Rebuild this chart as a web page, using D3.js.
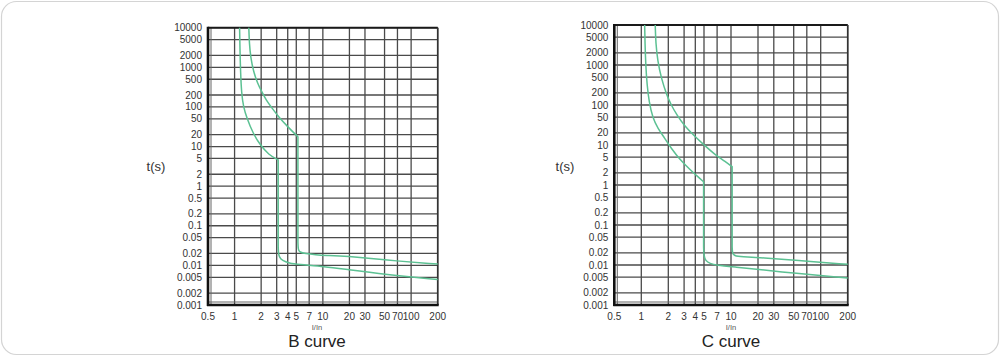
<!DOCTYPE html>
<html>
<head>
<meta charset="utf-8">
<script src="https://cdn.jsdelivr.net/npm/d3@7"></script>
<style>
  html, body { margin: 0; padding: 0; background: #fff; }
  svg { display: block; }
</style>
</head>
<body>
<svg id="chart" width="1000" height="356"></svg>
<script>
// ---- data ----
const xTicks = [0.5, 1, 2, 3, 4, 5, 7, 10, 20, 30, 50, 70, 100, 200];
const xTickLabels = ["0.5", "1", "2", "3", "4", "5", "7", "10", "20", "30", "50", "70", "100", "200"];
const yTicks = [10000, 5000, 2000, 1000, 500, 200, 100, 50, 20, 10, 5, 2, 1, 0.5, 0.2, 0.1, 0.05, 0.02, 0.01, 0.005, 0.002, 0.001];
const yTickLabels = ["10000", "5000", "2000", "1000", "500", "200", "100", "50", "20", "10", "5", "2", "1", "0.5", "0.2", "0.1", "0.05", "0.02", "0.01", "0.005", "0.002", "0.001"];

// B curve: lower boundary (I/In, t)
const bLowerI = [1.14, 1.15, 1.17, 1.2, 1.26, 1.38, 1.61, 1.95, 2.43, 3.12, 3.12, 3.14, 3.22, 3.46, 4.16, 5.2, 10.6, 18.3, 51, 200];
const bLowerT = [10000, 3000, 700, 220, 100, 52, 22, 11, 6.2, 4.6, 0.03, 0.02, 0.016, 0.0132, 0.0114, 0.0106, 0.0093, 0.0079, 0.0059, 0.0044];
// B curve: upper boundary
const bUpperI = [1.45, 1.47, 1.52, 1.64, 1.82, 2.03, 2.28, 2.67, 3.14, 4.0, 4.92, 5.22, 5.22, 5.25, 5.45, 6.3, 8.37, 10.6, 18.3, 51, 200];
const bUpperT = [10000, 4000, 1800, 775, 395, 242, 149, 92, 57, 31.6, 20, 17.7, 0.039, 0.025, 0.0215, 0.0198, 0.0185, 0.0179, 0.0172, 0.0136, 0.0108];

// C curve: lower boundary
const cLowerI = [1.09, 1.1, 1.12, 1.16, 1.22, 1.34, 1.53, 1.83, 2.15, 2.70, 3.53, 4.5, 4.95, 4.95, 4.98, 5.2, 5.8, 7.0, 10, 33.8, 200];
const cLowerT = [10000, 3500, 1000, 316, 121, 47, 26, 14.7, 8.3, 4.3, 2.37, 1.45, 1.2, 0.028, 0.017, 0.0128, 0.0108, 0.0099, 0.0091, 0.0068, 0.0047];
// C curve: upper boundary
const cUpperI = [1.43, 1.45, 1.52, 1.67, 1.92, 2.15, 2.5, 3.0, 3.8, 5.0, 6.6, 8.6, 10.3, 10.3, 10.35, 10.8, 13.1, 22.4, 52.5, 200];
const cUpperT = [10000, 3500, 1300, 464, 178, 100, 56, 31, 17.8, 10, 5.8, 3.9, 2.87, 0.029, 0.02, 0.017, 0.016, 0.0152, 0.0132, 0.0104];

const panelTitles = ["B curve", "C curve"];
const axisXTitle = "I/In";
const axisYTitle = "t(s)";

// ---- drawing ----
const svg = d3.select("#chart");
const font = "'Liberation Sans', Arial, sans-serif";

svg.append("rect")
  .attr("x", 1.5).attr("y", 1.5).attr("width", 997).attr("height", 353)
  .attr("rx", 15).attr("ry", 15)
  .attr("fill", "#fff").attr("stroke", "#d4d4d4").attr("stroke-width", 1.2);

const panels = [
  { x0: 208, x1: 437.7, y0: 27.7, y1: 305, cx: 317, tsx: 156, title: panelTitles[0],
    series: [[bLowerI, bLowerT], [bUpperI, bUpperT]] },
  { x0: 614.3, x1: 847.7, y0: 25, y1: 305, cx: 731, tsx: 565, title: panelTitles[1],
    series: [[cLowerI, cLowerT], [cUpperI, cUpperT]] }
];

panels.forEach(p => {
  const x = d3.scaleLog().domain([0.5, 200]).range([p.x0, p.x1]);
  const y = d3.scaleLog().domain([0.001, 10000]).range([p.y1, p.y0]);
  const g = svg.append("g");

  // grid
  g.selectAll("line.vx").data(xTicks).join("line")
    .attr("x1", d => x(d)).attr("x2", d => x(d))
    .attr("y1", p.y0).attr("y2", p.y1)
    .attr("stroke", "#4a4a4a").attr("stroke-width", 1.3);
  g.selectAll("line.hy").data(yTicks).join("line")
    .attr("x1", p.x0).attr("x2", p.x1)
    .attr("y1", d => y(d)).attr("y2", d => y(d))
    .attr("stroke", "#4a4a4a").attr("stroke-width", 1.3);

  // inner double lines near left/bottom frame
  g.append("line").attr("x1", p.x0 + 3).attr("x2", p.x0 + 3).attr("y1", p.y0).attr("y2", p.y1)
    .attr("stroke", "#666").attr("stroke-width", 1);
  g.append("line").attr("x1", p.x0).attr("x2", p.x1).attr("y1", p.y1 - 3).attr("y2", p.y1 - 3)
    .attr("stroke", "#666").attr("stroke-width", 1);

  // frame
  g.append("line").attr("x1", p.x0).attr("x2", p.x1).attr("y1", p.y0).attr("y2", p.y0)
    .attr("stroke", "#1a1a1a").attr("stroke-width", 2);
  g.append("line").attr("x1", p.x1).attr("x2", p.x1).attr("y1", p.y0).attr("y2", p.y1)
    .attr("stroke", "#333").attr("stroke-width", 1.6);
  g.append("line").attr("x1", p.x0).attr("x2", p.x0).attr("y1", p.y0 - 1).attr("y2", p.y1 + 1)
    .attr("stroke", "#111").attr("stroke-width", 2.6);
  g.append("line").attr("x1", p.x0 - 1).attr("x2", p.x1 + 1).attr("y1", p.y1).attr("y2", p.y1)
    .attr("stroke", "#111").attr("stroke-width", 2.6);

  // curves: smooth upper arc, straight vertical drop, smooth lower tail
  const smooth = d3.line().x(d => x(d[0])).y(d => y(d[1])).curve(d3.curveBasis);
  p.series.forEach(([I, T]) => {
    const pts = I.map((v, i) => [v, T[i]]);
    let k = 0;
    for (let i = 0; i < I.length - 1; i++) { if (I[i] === I[i + 1]) { k = i; break; } }
    const top = pts.slice(0, k + 1);
    const tail = pts.slice(k + 1);
    const d = smooth(top) + "L" + x(pts[k + 1][0]) + "," + y(pts[k + 1][1]) + smooth(tail).replace(/^M/, "L");
    g.append("path").attr("d", d)
      .attr("fill", "none").attr("stroke", "#5cc193").attr("stroke-width", 1.5)
      .attr("stroke-linejoin", "round");
  });

  // y tick labels
  g.selectAll("text.yl").data(yTicks).join("text")
    .attr("x", p.x0 - 6).attr("y", d => y(d)).attr("dy", "0.35em")
    .attr("text-anchor", "end")
    .attr("font-family", font).attr("font-size", 10).attr("fill", "#333")
    .text((d, i) => yTickLabels[i]);

  // x tick labels
  g.selectAll("text.xl").data(xTicks).join("text")
    .attr("x", d => x(d)).attr("y", p.y1 + 14.5)
    .attr("text-anchor", "middle")
    .attr("font-family", font).attr("font-size", 10).attr("fill", "#333")
    .text((d, i) => xTickLabels[i]);

  g.append("text").attr("x", p.cx).attr("y", p.y1 + 24.5)
    .attr("text-anchor", "middle").attr("font-family", font).attr("font-size", 7.5).attr("fill", "#555")
    .text(axisXTitle);

  g.append("text").attr("x", p.cx).attr("y", p.y1 + 41.5)
    .attr("text-anchor", "middle").attr("font-family", font).attr("font-size", 17).attr("fill", "#222")
    .text(p.title);

  g.append("text").attr("x", p.tsx).attr("y", 166).attr("dy", "0.35em")
    .attr("text-anchor", "middle").attr("font-family", font).attr("font-size", 13).attr("fill", "#333")
    .text(axisYTitle);
});
</script>
</body>
</html>
